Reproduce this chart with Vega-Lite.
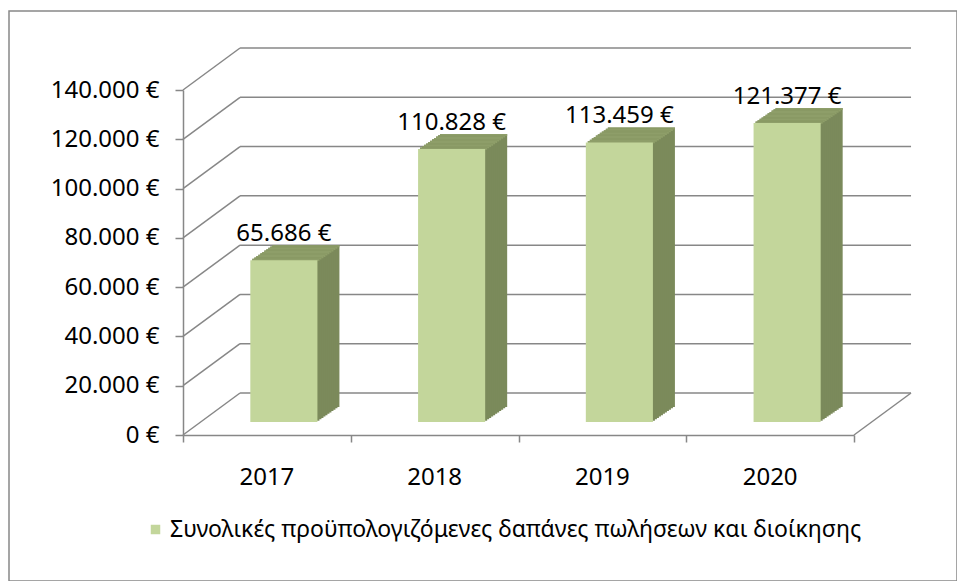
{
  "$schema": "https://vega.github.io/schema/vega-lite/v6.json",
  "width": 948,
  "height": 570,
  "autosize": {"type": "none"},
  "padding": {"left": 9, "top": 11, "right": 0, "bottom": 0},
  "background": "white",
  "config": {
    "font": "Noto Sans",
    "view": {"stroke": "#888888", "strokeWidth": 1.5},
    "locale": {"number": {"decimal": ",", "thousands": ".", "grouping": [3], "currency": ["", "\u00a0€"]}}
  },
  "datasets": {
    "bars": [
      {"year": "2017", "value": 65686, "series": "Συνολικές προϋπολογιζόμενες δαπάνες πωλήσεων και διοίκησης"},
      {"year": "2018", "value": 110828, "series": "Συνολικές προϋπολογιζόμενες δαπάνες πωλήσεων και διοίκησης"},
      {"year": "2019", "value": 113459, "series": "Συνολικές προϋπολογιζόμενες δαπάνες πωλήσεων και διοίκησης"},
      {"year": "2020", "value": 121377, "series": "Συνολικές προϋπολογιζόμενες δαπάνες πωλήσεων και διοίκησης"}
    ],
    "grid": [{"v": 0}, {"v": 20000}, {"v": 40000}, {"v": 60000}, {"v": 80000}, {"v": 100000}, {"v": 120000}, {"v": 140000}],
    "floor": [{"v": 0}]
  },
  "resolve": {"scale": {"x": "independent"}, "axis": {"x": "independent"}},
  "layer": [
    {
      "encoding": {
        "y": {"field": "v", "type": "quantitative", "scale": {"domain": [0, 140000], "range": [424, 79], "nice": false},
              "axis": {"orient": "left", "offset": -174, "values": [0, 20000, 40000, 60000, 80000, 100000, 120000, 140000], "format": "$,.0f", "domain": true, "domainColor": "#878787", "domainWidth": 1.5, "ticks": true, "tickSize": 8, "tickColor": "#878787", "tickWidth": 1.5, "labelPadding": 16, "labelFontSize": 24, "labelFont": "Noto Sans", "labelColor": "black", "title": null, "grid": false}}
      },
      "layer": [
        {
          "data": {"name": "grid"},
          "mark": {"type": "rule", "color": "#878787", "strokeWidth": 1.5, "yOffset": -42, "y2Offset": -42},
          "encoding": {
            "x": {"datum": 0.34, "type": "quantitative", "scale": {"domain": [0, 4], "range": [174, 845], "nice": false, "zero": false},
                  "axis": {"orient": "bottom", "offset": -146, "values": [0, 1, 2, 3, 4], "labels": false, "domain": false, "ticks": true, "tickSize": 7, "tickColor": "#878787", "tickWidth": 1.5, "grid": false, "title": null}},
            "x2": {"datum": 4.34}
          }
        },
        {
          "data": {"name": "grid"},
          "mark": {"type": "rule", "color": "#878787", "strokeWidth": 1.5, "y2Offset": -42},
          "encoding": {
            "x": {"datum": 0, "type": "quantitative", "scale": {"domain": [0, 4], "range": [174, 845], "nice": false, "zero": false},
                  "axis": {"orient": "bottom", "offset": -146, "values": [0, 1, 2, 3, 4], "labels": false, "domain": false, "ticks": true, "tickSize": 7, "tickColor": "#878787", "tickWidth": 1.5, "grid": false, "title": null}},
            "x2": {"datum": 0.34},
            "y2": {"field": "v"}
          }
        },
        {
          "data": {"name": "floor"},
          "mark": {"type": "rule", "color": "#878787", "strokeWidth": 1.5, "y2Offset": -42},
          "encoding": {
            "x": {"datum": 4, "type": "quantitative", "scale": {"domain": [0, 4], "range": [174, 845], "nice": false, "zero": false},
                  "axis": {"orient": "bottom", "offset": -146, "values": [0, 1, 2, 3, 4], "labels": false, "domain": false, "ticks": true, "tickSize": 7, "tickColor": "#878787", "tickWidth": 1.5, "grid": false, "title": null}},
            "x2": {"datum": 4.34},
            "y2": {"field": "v"}
          }
        }
      ]
    },
    {
      "data": {"name": "bars"},
      "encoding": {
        "x": {"field": "year", "type": "nominal", "scale": {"range": [174, 845], "paddingInner": 0.6, "paddingOuter": 0.3},
              "axis": {"orient": "bottom", "offset": -146, "ticks": false, "tickSize": 0, "domain": true, "domainColor": "#878787", "domainWidth": 1.5, "labelPadding": 30, "labelFontSize": 24, "labelFont": "Noto Sans", "labelColor": "black", "labelAngle": 0, "title": null, "grid": false}},
        "y": {"field": "value", "type": "quantitative", "scale": {"domain": [0, 140000], "range": [424, 79], "nice": false},
              "axis": {"orient": "left", "offset": -174, "values": [0, 20000, 40000, 60000, 80000, 100000, 120000, 140000], "format": "$,.0f", "domain": true, "domainColor": "#878787", "domainWidth": 1.5, "ticks": true, "tickSize": 8, "tickColor": "#878787", "tickWidth": 1.5, "labelPadding": 16, "labelFontSize": 24, "labelFont": "Noto Sans", "labelColor": "black", "title": null, "grid": false}}
      },
      "layer": [
        {"mark": {"type": "bar", "color": "#7b8a5b", "xOffset": 39, "x2Offset": 39, "yOffset": -28, "y2Offset": -28}},
        {"mark": {"type": "bar", "color": "#8e9e69", "xOffset": 39, "x2Offset": 39, "yOffset": -28, "y2Offset": -25.8}, "encoding": {"y2": {"field": "value"}}},
        {"mark": {"type": "bar", "color": "#7b8a5b", "xOffset": 37, "x2Offset": 37, "yOffset": -26.64, "y2Offset": -26.64}},
        {"mark": {"type": "bar", "color": "#8e9e69", "xOffset": 37, "x2Offset": 37, "yOffset": -26.64, "y2Offset": -24.44}, "encoding": {"y2": {"field": "value"}}},
        {"mark": {"type": "bar", "color": "#7b8a5b", "xOffset": 35, "x2Offset": 35, "yOffset": -25.27, "y2Offset": -25.27}},
        {"mark": {"type": "bar", "color": "#8e9e69", "xOffset": 35, "x2Offset": 35, "yOffset": -25.27, "y2Offset": -23.07}, "encoding": {"y2": {"field": "value"}}},
        {"mark": {"type": "bar", "color": "#7b8a5b", "xOffset": 33, "x2Offset": 33, "yOffset": -23.91, "y2Offset": -23.91}},
        {"mark": {"type": "bar", "color": "#8e9e69", "xOffset": 33, "x2Offset": 33, "yOffset": -23.91, "y2Offset": -21.71}, "encoding": {"y2": {"field": "value"}}},
        {"mark": {"type": "bar", "color": "#7b8a5b", "xOffset": 31, "x2Offset": 31, "yOffset": -22.55, "y2Offset": -22.55}},
        {"mark": {"type": "bar", "color": "#8e9e69", "xOffset": 31, "x2Offset": 31, "yOffset": -22.55, "y2Offset": -20.35}, "encoding": {"y2": {"field": "value"}}},
        {"mark": {"type": "bar", "color": "#7b8a5b", "xOffset": 29, "x2Offset": 29, "yOffset": -21.18, "y2Offset": -21.18}},
        {"mark": {"type": "bar", "color": "#8e9e69", "xOffset": 29, "x2Offset": 29, "yOffset": -21.18, "y2Offset": -18.98}, "encoding": {"y2": {"field": "value"}}},
        {"mark": {"type": "bar", "color": "#7b8a5b", "xOffset": 27, "x2Offset": 27, "yOffset": -19.82, "y2Offset": -19.82}},
        {"mark": {"type": "bar", "color": "#8e9e69", "xOffset": 27, "x2Offset": 27, "yOffset": -19.82, "y2Offset": -17.62}, "encoding": {"y2": {"field": "value"}}},
        {"mark": {"type": "bar", "color": "#7b8a5b", "xOffset": 25, "x2Offset": 25, "yOffset": -18.45, "y2Offset": -18.45}},
        {"mark": {"type": "bar", "color": "#8e9e69", "xOffset": 25, "x2Offset": 25, "yOffset": -18.45, "y2Offset": -16.25}, "encoding": {"y2": {"field": "value"}}},
        {"mark": {"type": "bar", "color": "#7b8a5b", "xOffset": 23, "x2Offset": 23, "yOffset": -17.09, "y2Offset": -17.09}},
        {"mark": {"type": "bar", "color": "#8e9e69", "xOffset": 23, "x2Offset": 23, "yOffset": -17.09, "y2Offset": -14.89}, "encoding": {"y2": {"field": "value"}}},
        {"mark": {"type": "bar", "color": "#7b8a5b", "xOffset": 21, "x2Offset": 21, "yOffset": -15.73, "y2Offset": -15.73}},
        {"mark": {"type": "bar", "color": "#8e9e69", "xOffset": 21, "x2Offset": 21, "yOffset": -15.73, "y2Offset": -13.53}, "encoding": {"y2": {"field": "value"}}},
        {"mark": {"type": "bar", "color": "#7b8a5b", "xOffset": 19, "x2Offset": 19, "yOffset": -14.36, "y2Offset": -14.36}},
        {"mark": {"type": "bar", "color": "#8e9e69", "xOffset": 19, "x2Offset": 19, "yOffset": -14.36, "y2Offset": -12.16}, "encoding": {"y2": {"field": "value"}}},
        {
          "mark": {"type": "bar", "xOffset": 17, "x2Offset": 17, "yOffset": -13, "y2Offset": -13},
          "encoding": {
            "color": {"field": "series", "type": "nominal", "scale": {"range": ["#c3d69b"]},
                      "legend": {"orient": "none", "legendX": 135, "legendY": 507, "title": null, "symbolType": "square", "symbolSize": 90, "symbolStrokeWidth": 0, "labelFontSize": 23, "labelFont": "Noto Sans", "labelColor": "black", "labelLimit": 0, "padding": 0, "labelOffset": 3}}
          }
        },
        {
          "mark": {"type": "text", "xOffset": 17, "yOffset": -32, "baseline": "alphabetic", "align": "center", "fontSize": 24, "font": "Noto Sans", "color": "black"},
          "encoding": {"text": {"field": "value", "type": "quantitative", "format": "$,.0f"}}
        }
      ]
    }
  ]
}
